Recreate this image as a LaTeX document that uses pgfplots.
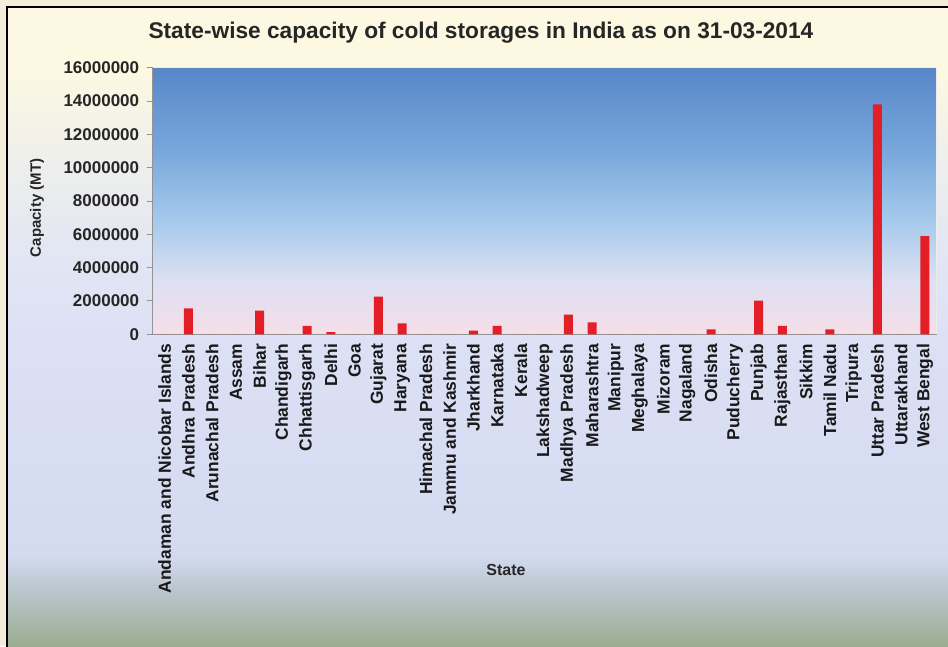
\documentclass[border=0pt]{standalone}
\usepackage{fontspec}
\setmainfont{Liberation Sans}
\usepackage{pgfplots}
\pgfplotsset{compat=1.18}

\definecolor{outercream}{HTML}{F5EDDA}
\definecolor{obA}{HTML}{9CAD92}
\definecolor{obB}{HTML}{BAC6CC}
\definecolor{obC}{HTML}{D3DAF0}
\definecolor{obD}{HTML}{DCE0F5}
\definecolor{obE}{HTML}{E3E6F3}
\definecolor{obF}{HTML}{F1F1EA}
\definecolor{obG}{HTML}{FCF8E2}
\definecolor{pbA}{HTML}{F6DEE9}
\definecolor{pbB}{HTML}{DCE0F2}
\definecolor{pbC}{HTML}{A6C9EC}
\definecolor{pbD}{HTML}{78A7DC}
\definecolor{pbE}{HTML}{5887C8}
\definecolor{barred}{HTML}{E41E26}

\pgfdeclareverticalshading{outerbg}{100bp}{color(0bp)=(obA); color(25bp)=(obA); color(29.4bp)=(obB); color(32.1bp)=(obC); color(48.1bp)=(obD); color(56bp)=(obE); color(64.6bp)=(obF); color(70bp)=(obG); color(75bp)=(obG); color(100bp)=(obG)}
\pgfdeclareverticalshading{plotbg}{100bp}{color(0bp)=(pbA); color(25bp)=(pbA); color(35.2bp)=(pbB); color(46.4bp)=(pbC); color(59.6bp)=(pbD); color(75bp)=(pbE); color(100bp)=(pbE)}

\pgfplotstableread{
idx value
0 0
1 1560000
2 0
3 0
4 1420000
5 0
6 500000
7 130000
8 0
9 2260000
10 660000
11 0
12 0
13 220000
14 500000
15 0
16 0
17 1180000
18 720000
19 0
20 0
21 0
22 0
23 300000
24 0
25 2020000
26 500000
27 0
28 300000
29 0
30 13800000
31 0
32 5900000
}\capdata

\begin{document}
\begin{tikzpicture}
\useasboundingbox (0pt,0pt) rectangle (948pt,-646pt);
\fill[outercream] (0pt,0pt) rectangle (948pt,-646pt);
\shade[shading=outerbg] (7pt,-7pt) rectangle (948pt,-646pt);
\draw[line width=2.5pt] (7pt,-650pt) -- (7pt,-7pt) -- (952pt,-7pt);
\begin{axis}[
  at={(152.7pt,-334.3pt)}, anchor=south west,
  scale only axis, width=784pt, height=266.6pt,
  xmin=-0.5, xmax=32.5, ymin=0, ymax=16000000,
  axis background/.style={shading=plotbg, draw=white!85!gray, line width=1pt},
  axis x line=bottom, axis y line=left,
  axis line style={-, draw=gray!85, line width=1.2pt},
  ybar, bar width=9pt,
  ytick={0,2000000,4000000,6000000,8000000,10000000,12000000,14000000,16000000},
  scaled y ticks=false,
  /pgf/number format/assume math mode=true,
  yticklabel style={/pgf/number format/fixed, /pgf/number format/precision=0,
    /pgf/number format/1000 sep={}, font=\fontsize{17}{17}\selectfont\bfseries,
    text=black!85, xshift=-4pt},
  tick align=outside,
  major tick length=6pt,
  y tick style={draw=gray!85, line width=1pt},
  x tick style={draw=none},
  xtick={0,...,32},
  xticklabels={Andaman and Nicobar Islands, Andhra Pradesh, Arunachal Pradesh, Assam, Bihar, Chandigarh, Chhattisgarh, Delhi, Goa, Gujarat, Haryana, Himachal Pradesh, Jammu and Kashmir, Jharkhand, Karnataka, Kerala, Lakshadweep, Madhya Pradesh, Maharashtra, Manipur, Meghalaya, Mizoram, Nagaland, Odisha, Puducherry, Punjab, Rajasthan, Sikkim, Tamil Nadu, Tripura, Uttar Pradesh, Uttarakhand, West Bengal},
  xticklabel style={rotate=90, anchor=east, font=\fontsize{17.4}{17.4}\selectfont\bfseries, text=black!90},
  title={State-wise capacity of cold storages in India as on 31-03-2014},
  title style={at={(axis description cs:0.4187,1.1077)}, anchor=center,
    font=\fontsize{22.7}{22.7}\selectfont\bfseries, text=black!85},
  xlabel={State},
  xlabel style={at={(axis description cs:0.4506,-0.884)}, anchor=center,
    font=\fontsize{16}{16}\selectfont\bfseries, text=black!85},
  ylabel={Capacity (MT)},
  ylabel style={at={(axis description cs:-0.1476,0.474)}, anchor=center, rotate=0,
    font=\fontsize{15}{15}\selectfont\bfseries, text=black!85},
  clip=false,
]
\addplot[fill=barred, draw=none] table[x=idx, y=value] {\capdata};
\end{axis}
\end{tikzpicture}
\end{document}
